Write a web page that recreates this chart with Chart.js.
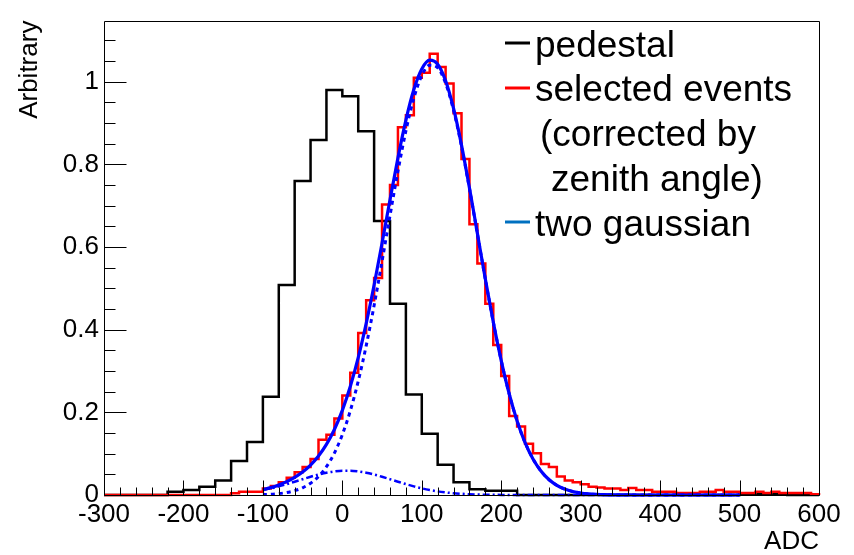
<!DOCTYPE html>
<html>
<head>
<meta charset="utf-8">
<script src="https://cdn.jsdelivr.net/npm/chart.js@4.4.1/dist/chart.umd.min.js"></script>
<style>
  html, body { margin: 0; padding: 0; background: #ffffff; }
  canvas { display: block; }
</style>
</head>
<body>
<canvas id="c" width="854" height="555"></canvas>
<script>
// ADC spectra: pedestal, selected events and the two-gaussian fit

const xTicks = [-300, -200, -100, 0, 100, 200, 300, 400, 500, 600];
const xTickLabels = ['-300', '-200', '-100', '0', '100', '200', '300', '400', '500', '600'];
const yTicks = [0, 0.2, 0.4, 0.6, 0.8, 1];
const yTickLabels = ['0', '0.2', '0.4', '0.6', '0.8', '1'];

// pedestal histogram: 20-ADC bins starting at -300
const pedestalStart = -300;
const pedestalWidth = 20;
const pedestal = [
  0, 0, 0, 0,
  0.008, 0.012, 0.020, 0.035, 0.082, 0.128, 0.238, 0.508, 0.760, 0.859, 0.980,
  0.965, 0.880, 0.663, 0.463, 0.243, 0.148, 0.073, 0.031, 0.014, 0.010, 0.010,
  0, 0, 0, 0, 0, 0, 0, 0, 0, 0, 0, 0, 0, 0,
  0.003, 0.003, 0.003, 0, 0
];

// selected events histogram: 10-ADC bins starting at -300
const eventsStart = -300;
const eventsWidth = 10;
const events = [
  0, 0, 0, 0, 0, 0, 0, 0, 0, 0, 0, 0, 0, 0, 0, 0,
  0.004, 0.008, 0.008, 0.008, 0.016, 0.022, 0.031, 0.042, 0.055, 0.068,
  0.087, 0.134, 0.146, 0.185, 0.241, 0.296, 0.392, 0.471, 0.525, 0.703,
  0.750, 0.890, 0.919, 1.010, 1.022, 1.068, 1.036, 0.996, 0.924, 0.813,
  0.655, 0.560, 0.463, 0.363, 0.288, 0.191, 0.166, 0.124, 0.101, 0.075,
  0.068, 0.045, 0.035, 0.031, 0.026, 0.020, 0.018, 0.016, 0.016, 0.012,
  0.017, 0.012, 0.012, 0.008, 0.008, 0.008, 0.005, 0.005, 0.005, 0.008,
  0.008, 0.012, 0.008, 0.008, 0.005, 0.005, 0.008, 0.005, 0.008, 0.005,
  0.005, 0.005, 0.005, 0.002
];

// fit curve samples
const fitX = [
  -100, -90, -80, -70, -60, -50, -40, -30, -20, -10,
  0, 10, 20, 30, 40, 50, 60, 70, 80, 90,
  100, 110, 120, 130, 140, 150, 160, 170, 180, 190,
  200, 210, 220, 230, 240, 250, 260, 270, 280, 290,
  300, 310, 320, 330, 340, 350, 360, 370, 380, 390,
  400, 410, 420, 430, 440, 450, 460, 470, 480, 490, 500
];
const fitTotal = [
  0.0131, 0.0179, 0.0243, 0.0323, 0.0427, 0.0557, 0.0725, 0.0943, 0.1224, 0.1586,
  0.2048, 0.2624, 0.3324, 0.4148, 0.5082, 0.6097, 0.7143, 0.8159, 0.9072, 0.9811,
  1.0310, 1.0523, 1.0426, 1.0026, 0.9354, 0.8468, 0.7434, 0.6331, 0.5228, 0.4188,
  0.3254, 0.2451, 0.1789, 0.1268, 0.0872, 0.0581, 0.0374, 0.0234, 0.0143, 0.0085,
  0.0048, 0.0026, 0.0014, 0.0007, 0.0004, 0.0002, 0.0001, 0, 0, 0,
  0, 0, 0, 0, 0, 0, 0, 0, 0, 0, 0
];
const fitMain = [
  0.0010, 0.0018, 0.0034, 0.0060, 0.0105, 0.0175, 0.0284, 0.0448, 0.0685, 0.1015,
  0.1460, 0.2036, 0.2753, 0.3609, 0.4587, 0.5656, 0.6761, 0.7837, 0.8809, 0.9602,
  1.0149, 1.0402, 1.0338, 0.9963, 0.9311, 0.8439, 0.7415, 0.6319, 0.5221, 0.4184,
  0.3251, 0.2450, 0.1789, 0.1268, 0.0872, 0.0581, 0.0374, 0.0234, 0.0143, 0.0085,
  0.0048, 0.0026, 0.0014, 0.0007, 0.0004, 0.0002, 0.0001, 0, 0, 0,
  0, 0, 0, 0, 0, 0, 0, 0, 0, 0, 0
];
const fitSmall = [
  0.0121, 0.0161, 0.0209, 0.0263, 0.0322, 0.0382, 0.0441, 0.0495, 0.0539, 0.0571,
  0.0588, 0.0588, 0.0571, 0.0539, 0.0495, 0.0441, 0.0382, 0.0322, 0.0263, 0.0209,
  0.0161, 0.0121, 0.0088, 0.0063, 0.0043, 0.0029, 0.0019, 0.0012, 0.0007, 0.0004,
  0.0003, 0.0001, 0, 0, 0, 0, 0, 0, 0, 0,
  0, 0, 0, 0, 0, 0, 0, 0, 0, 0,
  0, 0, 0, 0, 0, 0, 0, 0, 0, 0, 0
];

const legendLabels = ['pedestal', 'selected events', '(corrected by', 'zenith angle)', 'two gaussian'];

const FONT = "'Liberation Sans', Arial, Helvetica, sans-serif";

// histogram outline: one point per bin upper edge, starting at the lower edge of the first bin
function histPoints(start, width, values) {
  const pts = [{ x: start, y: 0 }];
  values.forEach((v, i) => pts.push({ x: start + (i + 1) * width, y: v }));
  pts.push({ x: start + values.length * width, y: 0 });
  return pts;
}
function curvePoints(xs, ys) {
  return xs.map((x, i) => ({ x: x, y: ys[i] }));
}

// frame, inward ticks, legend text
const frameAndLegend = {
  id: 'frameAndLegend',
  afterDatasetsDraw(chart) {
    const { ctx, chartArea: a, scales: { x, y } } = chart;
    ctx.save();

    ctx.strokeStyle = '#000000';
    ctx.lineWidth = 1;
    const L = Math.round(a.left) + 0.5, R = Math.round(a.right) + 0.5;
    const T = Math.round(a.top) + 0.5, B = Math.round(a.bottom) + 0.5;
    ctx.beginPath();
    ctx.moveTo(L, T); ctx.lineTo(R, T); ctx.lineTo(R, B); ctx.lineTo(L, B); ctx.closePath();
    ctx.stroke();

    // y ticks: major every 0.2, minor every 0.05
    ctx.beginPath();
    for (let k = 0; k <= 22; k++) {
      const py = Math.round(y.getPixelForValue(k * 0.05)) + 0.5;
      const len = (k % 4 === 0) ? 22 : 11;
      ctx.moveTo(L, py); ctx.lineTo(L + len, py);
    }
    // x ticks: major every 100, minor every 20
    for (let k = 0; k <= 45; k++) {
      const px = Math.round(x.getPixelForValue(-300 + k * 20)) + 0.5;
      const len = (k % 5 === 0) ? 15 : 8;
      ctx.moveTo(px, B); ctx.lineTo(px, B - len);
    }
    ctx.stroke();

    // legend
    const rows = [
      { x: 535, y: 57, marker: '#000000', my: 43 },
      { x: 535, y: 101, marker: '#ff0000', my: 88 },
      { x: 540, y: 146, marker: null },
      { x: 551, y: 191, marker: null },
      { x: 535, y: 236, marker: '#0070c0', my: 222 }
    ];
    ctx.font = '37px ' + FONT;
    ctx.textBaseline = 'alphabetic';
    ctx.textAlign = 'left';
    rows.forEach((r, i) => {
      if (r.marker) {
        ctx.strokeStyle = r.marker;
        ctx.lineWidth = 3;
        ctx.beginPath();
        ctx.moveTo(505, r.my); ctx.lineTo(530, r.my);
        ctx.stroke();
      }
      ctx.fillStyle = '#000000';
      ctx.fillText(legendLabels[i], r.x, r.y);
    });
    ctx.restore();
  }
};

new Chart(document.getElementById('c'), {
  type: 'line',
  data: {
    datasets: [
      {
        label: 'two gaussian',
        data: curvePoints(fitX, fitTotal),
        borderColor: '#0000ff', borderWidth: 3.2,
        pointRadius: 0, cubicInterpolationMode: 'monotone',
        clip: false, order: 0
      },
      {
        label: 'gaussian 1',
        data: curvePoints(fitX, fitMain),
        borderColor: '#0000ff', borderWidth: 3, borderDash: [4, 4],
        pointRadius: 0, cubicInterpolationMode: 'monotone',
        clip: false, order: 1
      },
      {
        label: 'gaussian 2',
        data: curvePoints(fitX, fitSmall),
        borderColor: '#0000ff', borderWidth: 2.5, borderDash: [7, 3, 2, 3],
        pointRadius: 0, cubicInterpolationMode: 'monotone',
        clip: false, order: 2
      },
      {
        label: 'selected events',
        data: histPoints(eventsStart, eventsWidth, events),
        stepped: 'after',
        borderColor: '#ff0000', borderWidth: 2.5,
        pointRadius: 0, clip: false, order: 3
      },
      {
        label: 'pedestal',
        data: histPoints(pedestalStart, pedestalWidth, pedestal),
        stepped: 'after',
        borderColor: '#000000', borderWidth: 2.5,
        pointRadius: 0, clip: false, order: 4
      }
    ]
  },
  options: {
    responsive: false,
    animation: false,
    layout: { padding: { left: 0, right: 35, top: 10, bottom: 0 } },
    plugins: { legend: { display: false }, tooltip: { enabled: false } },
    scales: {
      x: {
        type: 'linear', min: -300, max: 600,
        afterBuildTicks: (s) => { s.ticks = xTicks.map(v => ({ value: v })); },
        afterFit: (s) => { s.height = 60; },
        ticks: {
          autoSkip: false, maxRotation: 0, minRotation: 0,
          color: '#000000', padding: 4,
          font: { family: FONT, size: 26 },
          callback: (v, i) => xTickLabels[i]
        },
        grid: { display: false, drawTicks: false },
        border: { display: false },
        title: {
          display: true, text: 'ADC', align: 'end', color: '#000000',
          font: { family: FONT, size: 26, lineHeight: 1 }, padding: 0
        }
      },
      y: {
        type: 'linear', min: 0, max: 1.148,
        afterBuildTicks: (s) => { s.ticks = yTicks.map(v => ({ value: v })); },
        afterFit: (s) => { s.width = 104; },
        ticks: {
          color: '#000000', padding: 5,
          font: { family: FONT, size: 26 },
          callback: (v, i) => yTickLabels[i]
        },
        grid: { display: false, drawTicks: false },
        border: { display: false },
        title: {
          display: true, text: 'Arbitrary', align: 'end', color: '#000000',
          font: { family: FONT, size: 26, lineHeight: 1 }, padding: { top: 17 }
        }
      }
    }
  },
  plugins: [frameAndLegend]
});
</script>
</body>
</html>
